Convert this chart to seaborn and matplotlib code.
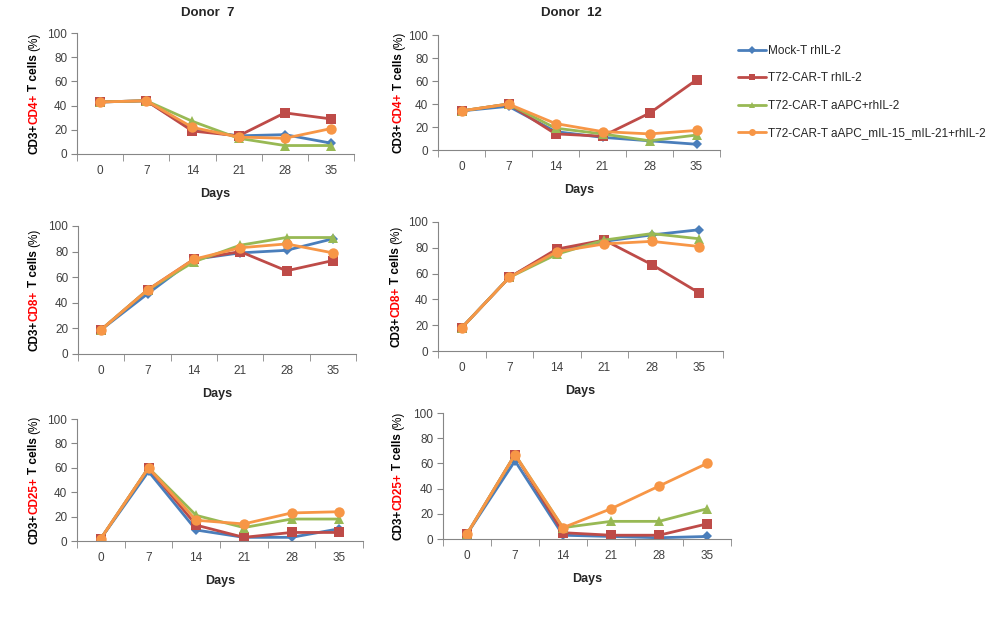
import numpy as np
import pandas as pd
import matplotlib
matplotlib.use("Agg")
import matplotlib.pyplot as plt
import seaborn as sns
from matplotlib.lines import Line2D

days = [0, 7, 14, 21, 28, 35]
groups = ["Mock-T rhIL-2", "T72-CAR-T rhIL-2", "T72-CAR-T aAPC+rhIL-2",
          "T72-CAR-T aAPC_mIL-15_mIL-21+rhIL-2"]
colors = ["#4a7ebb", "#be4b48", "#98b954", "#f79646"]
markers = ["D", "s", "^", "o"]

# values per panel: mock, car, car+aAPC, car+aAPC(mIL-15/21)
d7_cd4 = [[43, 44, 20, 15, 16, 9],
          [43, 44, 19, 15, 34, 29],
          [43, 44, 27, 13, 7, 7],
          [43, 44, 22, 14, 13, 21]]
d12_cd4 = [[34, 38, 16, 11, 8, 5],
           [34, 40, 14, 12, 32, 61],
           [34, 40, 19, 14, 8, 13],
           [34, 40, 23, 16, 14, 17]]
d7_cd8 = [[19, 47, 74, 79, 81, 90],
          [19, 50, 74, 80, 65, 73],
          [19, 50, 72, 85, 91, 91],
          [19, 50, 74, 83, 86, 79]]
d12_cd8 = [[18, 57, 78, 85, 90, 94],
           [18, 57, 79, 86, 67, 45],
           [18, 57, 75, 86, 91, 87],
           [18, 57, 77, 83, 85, 81]]
d7_cd25 = [[2, 57, 9, 3, 3, 10],
           [2, 60, 13, 3, 7, 7],
           [2, 60, 21, 11, 18, 18],
           [2, 60, 17, 14, 23, 24]]
d12_cd25 = [[4, 62, 3, 2, 1, 2],
            [4, 67, 5, 3, 3, 12],
            [4, 67, 9, 14, 14, 24],
            [4, 67, 9, 24, 42, 60]]

W, H = 1000, 639

sns.set_style("white")
plt.rcParams["font.family"] = ["Liberation Sans", "DejaVu Sans"]

fig = plt.figure(figsize=(W / 100, H / 100), dpi=100)
renderer = fig.canvas.get_renderer()


def colored_ylabel(x_px, yc_px, parts):
    texts = []
    for s, c, w, _ in parts:
        t = fig.text(0, 0, s, rotation=90, rotation_mode="anchor", ha="left",
                     va="baseline", color=c, fontweight=w, fontsize=8.5)
        texts.append(t)
    lengths = [t.get_window_extent(renderer).height for t in texts]
    gaps = [p[3] for p in parts]
    total = sum(lengths) + sum(gaps)
    y = yc_px + total / 2
    for t, ln, g in zip(texts, lengths, gaps):
        y -= g
        t.set_position((x_px / W, 1 - y / H))
        y -= ln


# (title, marker, data, (left, top, right, bottom) in px, label x)
panels = [
    ("Donor  7", "CD4+", d7_cd4, (77, 33, 354, 154), 33),
    ("Donor  12", "CD4+", d12_cd4, (438, 35, 720, 150), 398),
    (None, "CD8+", d7_cd8, (78, 226, 356, 354), 33),
    (None, "CD8+", d12_cd8, (438, 222, 723, 351), 395),
    (None, "CD25+", d7_cd25, (77, 419, 363, 541), 33),
    (None, "CD25+", d12_cd25, (443, 413, 731, 539), 397),
]

for title, cd, values, (l, t, r, b), lx in panels:
    ax = fig.add_axes([l / W, 1 - b / H, (r - l) / W, (b - t) / H])
    df = pd.DataFrame({
        "pos": np.tile(np.arange(len(days)), len(groups)),
        "value": np.concatenate(values),
        "group": np.repeat(groups, len(days)),
    })
    sns.lineplot(data=df, x="pos", y="value", hue="group", style="group",
                 palette=dict(zip(groups, colors)),
                 markers=dict(zip(groups, markers)), dashes=False,
                 linewidth=2, markersize=7.5, markeredgewidth=0,
                 legend=False, ax=ax)
    for ln in ax.lines:
        if ln.get_marker() == "D":
            ln.set_markersize(5.5)
    ax.set_xlim(-0.5, len(days) - 0.5)
    ax.set_ylim(0, 100)
    ax.set_xticks(range(len(days)))
    ax.set_xticklabels(days)
    ax.set_xticks(np.arange(-0.5, len(days), 1), minor=True)
    ax.set_yticks(range(0, 101, 20))
    ax.tick_params(axis="x", which="major", length=0, pad=8,
                   labelsize=8.5, labelcolor="#404040")
    ax.tick_params(axis="x", which="minor", length=5, color="#868686",
                   direction="out", bottom=True)
    ax.tick_params(axis="y", length=4, color="#868686", direction="out",
                   left=True, pad=3, labelsize=8.5, labelcolor="#404040")
    for s in ["top", "right"]:
        ax.spines[s].set_visible(False)
    for s in ["left", "bottom"]:
        ax.spines[s].set_color("#868686")
        ax.spines[s].set_linewidth(0.8)
    ax.set_xlabel("Days", fontweight="bold", fontsize=9, labelpad=8)
    ax.set_ylabel("")
    if title:
        fig.text((l + r) / 2 / W - 0.008, 1 - 13 / H, title, ha="center",
                 va="center", fontweight="bold", fontsize=9.5)
    colored_ylabel(lx + 4, (t + b) / 2,
                   [("CD3+", "black", "bold", 0), (cd, "#ff0000", "bold", 0),
                    ("T cells", "black", "bold", 3),
                    ("(%)", "black", "normal", 3)])

handles = [Line2D([], [], color=c, marker=m, linewidth=2,
                  markersize=4 if m == "D" else 5, markeredgewidth=0)
           for c, m in zip(colors, markers)]
fig.legend(handles, groups, loc="upper left",
           bbox_to_anchor=(738 / W, 1 - 45 / H), frameon=False, fontsize=8.5,
           handlelength=2.4, handletextpad=0.15, labelspacing=1.3,
           borderaxespad=0, borderpad=0)

fig.savefig("out.png", dpi=100, facecolor="white")
